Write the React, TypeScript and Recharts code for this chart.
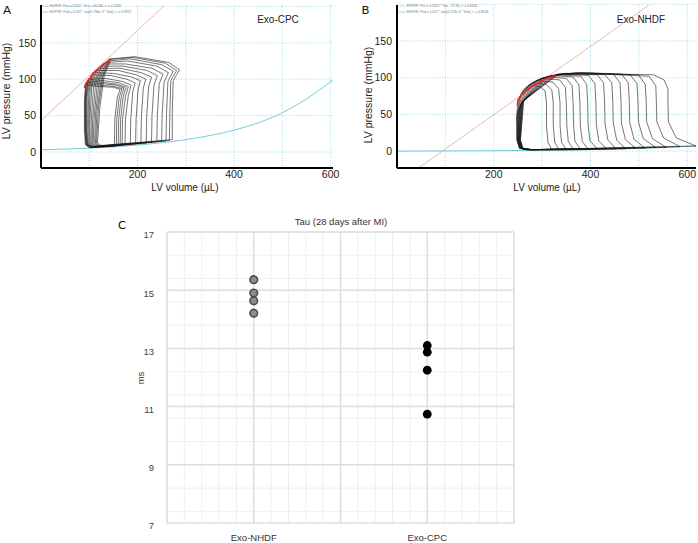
import { ComposedChart, ScatterChart, Line, Scatter, XAxis, YAxis, CartesianGrid } from 'recharts';

const font = '"Liberation Sans", Arial, Helvetica, sans-serif';

// ---- Panel A: Exo-CPC pressure-volume loops, [volume µL, pressure mmHg]
const loopsA: number[][][] = [
  [[152, 8], [153, 45], [158, 75], [164, 86], [150, 89], [120, 90], [92, 92], [90, 70], [90, 30], [92, 10], [100, 6], [152, 8]],
  [[156, 8], [157, 45], [162, 75], [168, 87], [152, 90], [120, 92], [93, 94], [91, 70], [91, 30], [93, 10], [101, 6], [156, 8]],
  [[160, 9], [161, 45], [166, 75], [172, 88], [155, 92], [125, 94], [95, 96], [92, 72], [92, 30], [94, 10], [102, 6], [160, 9]],
  [[164, 9], [165, 45], [170, 75], [176, 89], [158, 93], [125, 96], [97, 98], [93, 74], [93, 30], [95, 10], [103, 7], [164, 9]],
  [[168, 9], [169, 45], [175, 76], [181, 90], [162, 95], [130, 98], [99, 100], [94, 76], [94, 30], [96, 10], [104, 7], [168, 9]],
  [[174, 10], [175, 45], [181, 78], [187, 92], [168, 97], [135, 101], [102, 102], [96, 78], [95, 30], [97, 10], [105, 7], [174, 10]],
  [[185, 10], [186, 45], [190, 82], [195, 95], [178, 100], [145, 105], [106, 106], [99, 82], [97, 35], [98, 10], [106, 7], [185, 10]],
  [[196, 11], [197, 45], [201, 85], [206, 98], [188, 103], [150, 108], [110, 109], [102, 85], [99, 38], [100, 10], [108, 7], [196, 11]],
  [[207, 12], [208, 48], [212, 88], [217, 100], [198, 106], [160, 112], [115, 112], [105, 88], [101, 40], [102, 10], [110, 7], [207, 12]],
  [[218, 12], [219, 48], [223, 90], [229, 103], [208, 109], [165, 115], [120, 115], [109, 90], [104, 42], [104, 10], [112, 7], [218, 12]],
  [[229, 13], [230, 50], [234, 92], [241, 105], [220, 112], [170, 118], [125, 118], [113, 93], [107, 45], [106, 11], [114, 8], [229, 13]],
  [[240, 14], [241, 50], [245, 94], [253, 107], [230, 115], [175, 121], [130, 121], [117, 96], [110, 48], [108, 11], [116, 8], [240, 14]],
  [[250, 15], [251, 52], [255, 96], [264, 109], [240, 118], [180, 125], [135, 123], [121, 99], [113, 52], [111, 12], [118, 8], [250, 15]],
  [[259, 15], [260, 52], [263, 97], [274, 111], [250, 120], [185, 128], [139, 125], [125, 101], [116, 56], [113, 12], [120, 8], [259, 15]],
  [[266, 16], [267, 55], [269, 98], [281, 112], [258, 122], [190, 130], [142, 127], [128, 103], [119, 60], [115, 12], [122, 8], [266, 16]],
  [[272, 17], [272, 55], [274, 98], [287, 113], [265, 123], [195, 131], [145, 128], [131, 105], [122, 62], [117, 13], [124, 9], [272, 17]],
];
const esA = [[90, 88], [92, 92], [93, 94], [95, 96], [97, 98], [99, 100], [102, 102], [106, 106], [110, 109], [115, 112], [120, 115], [125, 118], [130, 121], [135, 123], [139, 125], [142, 127], [145, 128]];
const espvrA = [[0, 43], [255, 201]];
const edpvrA = [[0, 3], [100, 5.3], [200, 9.5], [300, 17], [400, 30], [450, 40], [500, 54], [550, 73], [605, 99]];

// ---- Panel B: Exo-NHDF pressure-volume loops
const loopsB: number[][][] = [
  [[320, 2], [312, 12], [309, 35], [309, 65], [306, 82], [295, 88], [275, 90], [258, 80], [250, 69], [247, 45], [248, 15], [253, 4], [265, 2], [320, 2]],
  [[335, 2], [326, 12], [323, 35], [323, 65], [320, 83], [308, 91], [280, 93], [262, 84], [254, 73], [248, 47], [248, 15], [253, 4], [266, 2], [335, 2]],
  [[350, 2], [340, 12], [337, 35], [337, 65], [334, 85], [322, 94], [290, 96], [267, 87], [258, 77], [249, 50], [249, 15], [254, 4], [267, 2], [350, 2]],
  [[365, 2], [354, 13], [351, 35], [350, 65], [348, 87], [336, 97], [300, 99], [272, 90], [263, 80], [250, 52], [249, 15], [254, 4], [268, 2], [365, 2]],
  [[380, 2], [368, 13], [365, 35], [364, 65], [362, 89], [350, 99], [310, 101], [278, 93], [268, 83], [251, 54], [250, 15], [255, 4], [269, 2], [380, 2]],
  [[396, 2], [383, 13], [379, 35], [378, 66], [376, 90], [364, 101], [320, 103], [284, 95], [274, 86], [252, 56], [250, 15], [255, 4], [270, 2], [396, 2]],
  [[414, 3], [399, 14], [395, 36], [394, 66], [392, 91], [380, 102], [330, 104], [290, 97], [280, 89], [253, 58], [251, 15], [256, 4], [271, 2], [414, 3]],
  [[433, 3], [417, 14], [412, 36], [411, 67], [409, 92], [396, 103], [340, 105], [296, 99], [286, 91], [254, 60], [251, 15], [256, 4], [272, 2], [433, 3]],
  [[453, 3], [436, 15], [430, 37], [429, 68], [427, 93], [414, 104], [350, 106], [302, 100], [292, 93], [255, 62], [252, 15], [257, 4], [273, 2], [453, 3]],
  [[473, 3], [454, 15], [447, 38], [446, 68], [444, 93], [430, 104], [360, 106], [308, 101], [298, 95], [256, 64], [252, 15], [257, 4], [274, 2], [473, 3]],
  [[493, 4], [472, 16], [464, 38], [463, 68], [461, 93], [447, 105], [370, 107], [314, 102], [304, 97], [257, 65], [253, 15], [258, 4], [275, 2], [493, 4]],
  [[513, 4], [490, 16], [481, 39], [480, 69], [478, 93], [464, 105], [380, 107], [320, 103], [310, 99], [258, 66], [253, 15], [258, 4], [276, 2], [513, 4]],
  [[535, 5], [509, 17], [499, 40], [498, 69], [496, 92], [482, 104], [390, 106], [326, 104], [316, 100], [259, 67], [254, 15], [259, 4], [277, 2], [535, 5]],
  [[557, 5], [528, 17], [516, 40], [515, 69], [513, 91], [499, 104], [400, 106], [331, 105], [321, 101], [260, 68], [254, 15], [259, 4], [278, 2], [557, 5]],
  [[585, 6], [551, 18], [537, 40], [536, 68], [535, 89], [521, 102], [420, 105], [336, 105], [326, 102], [261, 68], [255, 15], [260, 4], [279, 2], [585, 6]],
  [[618, 7], [577, 18], [561, 40], [560, 66], [560, 85], [552, 97], [530, 104], [440, 105], [340, 105], [330, 103], [262, 69], [255, 15], [260, 4], [280, 2], [618, 7]],
];
const esB = [[249, 62], [250, 69], [254, 73], [258, 77], [263, 80], [268, 83], [274, 86], [280, 89], [286, 91], [292, 93], [298, 95], [304, 97], [310, 99], [316, 100], [321, 101], [326, 102], [330, 103]];
const espvrB = [[44, -23], [521, 199]];
const edpvrB = [[0, 0], [120, 0.3], [250, 0.8], [350, 1.5], [450, 3], [550, 5], [618, 7]];

// ---- Panel C: Tau (ms)
const groups = ['Exo-NHDF', 'Exo-CPC'];
const nhdfTau = [15.36, 14.9, 14.64, 14.21];
const cpcTau = [13.1, 12.87, 12.25, 10.74];

const pts = (arr: number[][]) => arr.map(([v, p]) => ({ v, p }));
const range = (from: number, to: number, step: number) =>
  Array.from({ length: Math.round((to - from) / step) + 1 }, (_, i) => +(from + i * step).toFixed(3));

const pvGridH = range(0, 200, 25);
const pvGridV = range(100, 600, 100);

function PVPanel({ loops, es, espvr, edpvr, xMax, yDomain, yAxisWidth, margin }: any) {
  return (
    <ComposedChart width={margin.w} height={200} margin={{ top: 5, right: margin.right, bottom: 0, left: 0 }}>
      <CartesianGrid stroke="#9fe2ea" strokeDasharray="1 1.5" horizontalValues={pvGridH} verticalValues={pvGridV} />
      <XAxis
        type="number"
        dataKey="v"
        domain={[0, xMax]}
        ticks={[200, 400, 600]}
        allowDataOverflow
        height={32}
        tickLine={false}
        tickSize={1}
        axisLine={{ stroke: '#000', strokeWidth: 2 }}
        tick={{ fontSize: 10.5, fill: '#222', fontFamily: font }}
      />
      <YAxis
        type="number"
        domain={yDomain}
        ticks={[0, 50, 100, 150]}
        allowDataOverflow
        width={yAxisWidth}
        tickLine={false}
        tickSize={3}
        axisLine={{ stroke: '#000', strokeWidth: 2 }}
        tick={{ fontSize: 10.5, fill: '#222', fontFamily: font }}
      />
      <Line data={pts(edpvr)} dataKey="p" type="monotone" stroke="#4fc0d0" strokeWidth={0.8} dot={false} isAnimationActive={false} />
      <Line data={pts(espvr)} dataKey="p" type="linear" stroke="#e7a3a3" strokeWidth={0.8} dot={false} isAnimationActive={false} />
      {loops.map((loop: number[][], i: number) => (
        <Line key={i} data={pts(loop)} dataKey="p" type="linear" stroke="#1a1a1a" strokeWidth={0.6} dot={false} isAnimationActive={false} />
      ))}
      <Line data={pts(es)} dataKey="p" type="linear" stroke="#e3262a" strokeWidth={1.8} dot={false} isAnimationActive={false} />
    </ComposedChart>
  );
}

const nhdfPts = nhdfTau.map((y) => ({ x: 0, y }));
const cpcPts = cpcTau.map((y) => ({ x: 1, y }));

export default function App() {
  const tiny = { fontSize: 3.3, fill: '#777', fontFamily: font };
  const label = { fontFamily: font, fill: '#222' };
  return (
    <div style={{ position: 'absolute', left: 0, top: 0, width: 698, height: 543, background: '#fff', overflow: 'hidden' }}>
      <div style={{ position: 'absolute', left: 0, top: 0 }}>
        <PVPanel loops={loopsA} es={esA} espvr={espvrA} edpvr={edpvrA} xMax={605} yDomain={[-22, 202]} yAxisWidth={41} margin={{ w: 345, right: 12 }} />
      </div>
      <div style={{ position: 'absolute', left: 349, top: 0 }}>
        <PVPanel loops={loopsB} es={esB} espvr={espvrB} edpvr={edpvrB} xMax={618} yDomain={[-23, 199]} yAxisWidth={48} margin={{ w: 349, right: 2 }} />
      </div>
      <div style={{ position: 'absolute', left: 100, top: 205 }}>
        <ScatterChart width={430} height={338} margin={{ top: 27, right: 16, bottom: 0, left: 0 }}>
          <CartesianGrid stroke="#efefef" horizontalValues={range(7, 17, 0.4)} verticalValues={range(-0.5, 1.5, 0.1)} />
          <CartesianGrid stroke="#dedede" strokeWidth={1.5} horizontalValues={[9, 11, 13, 15, 17]} verticalValues={[0, 0.5, 1, 1.5]} />
          <XAxis
            type="number"
            dataKey="x"
            domain={[-0.5, 1.5]}
            ticks={[0, 1]}
            tickFormatter={(i: number) => groups[i]}
            height={20}
            tickLine={false}
            tickSize={9}
            axisLine={{ stroke: '#cfcfcf' }}
            tick={{ fontSize: 9.5, fill: '#333', fontFamily: font }}
          />
          <YAxis
            type="number"
            dataKey="y"
            domain={[7, 17]}
            ticks={[7, 9, 11, 13, 15, 17]}
            width={67}
            tickLine={false}
            tickSize={11}
            axisLine={{ stroke: '#cfcfcf' }}
            tick={{ fontSize: 9.5, fill: '#444', fontFamily: font, dy: 3 }}
          />
          <Scatter
            data={nhdfPts}
            isAnimationActive={false}
            shape={(p: any) => <circle cx={p.cx} cy={p.cy} r={3.8} fill="#8c8c8c" stroke="#4d4d4d" strokeWidth={1.6} />}
          />
          <Scatter
            data={cpcPts}
            isAnimationActive={false}
            shape={(p: any) => <circle cx={p.cx} cy={p.cy} r={4.4} fill="#000" />}
          />
        </ScatterChart>
      </div>
      <svg width={698} height={543} style={{ position: 'absolute', left: 0, top: 0, pointerEvents: 'none' }}>
        {/* panel letters */}
        <text x={3} y={13.5} fontSize={12} fontFamily="Lato, sans-serif" fill="#111">A</text>
        <text x={361.5} y={13.5} fontSize={12} fontFamily="Lato, sans-serif" fill="#111">B</text>
        <text x={118} y={228.5} fontSize={12} fontFamily="Lato, sans-serif" fill="#111">C</text>

        {/* panel A texts */}
        <line x1={42} y1={6} x2={49} y2={6} stroke="#e7a3a3" strokeWidth={0.6} />
        <text x={50} y={7.2} {...tiny}>ESPVR: Pes = 0.613 * Ves + 40.140, r² = 0.7436</text>
        <line x1={42} y1={12} x2={49} y2={12} stroke="#4fc0d0" strokeWidth={0.6} />
        <text x={50} y={13.2} {...tiny}>EDPVR: Ped = 4.247 * exp(5.780e-3 * Ved), r² = 0.9927</text>
        <text x={278} y={23} fontSize={10} textAnchor="middle" {...label}>Exo-CPC</text>
        <text x={185} y={191} fontSize={10} textAnchor="middle" {...label}>LV volume (µL)</text>
        <text transform="translate(9.5,91) rotate(-90)" fontSize={10.5} textAnchor="middle" {...label}>LV pressure (mmHg)</text>

        {/* panel B texts */}
        <line x1={399} y1={6} x2={406} y2={6} stroke="#e7a3a3" strokeWidth={0.6} />
        <text x={407} y={7.2} {...tiny}>ESPVR: Pes = 0.4502 * Ves - 37.85, r² = 0.8534</text>
        <line x1={399} y1={12} x2={406} y2={12} stroke="#4fc0d0" strokeWidth={0.6} />
        <text x={407} y={13.2} {...tiny}>EDPVR: Ped = 1.057 * exp(2.123e-3 * Ved), r² = 0.8533</text>
        <text x={641} y={23} fontSize={10} textAnchor="middle" {...label}>Exo-NHDF</text>
        <text x={547} y={191} fontSize={10} textAnchor="middle" {...label}>LV volume (µL)</text>
        <text transform="translate(372,95) rotate(-90)" fontSize={10.5} textAnchor="middle" {...label}>LV pressure (mmHg)</text>

        {/* panel C texts */}
        <text x={341} y={224.5} fontSize={9.5} textAnchor="middle" fontFamily={font} fill="#333">Tau (28 days after MI)</text>
        <text transform="translate(144,378) rotate(-90)" fontSize={9.5} textAnchor="middle" fontFamily={font} fill="#333">ms</text>
      </svg>
    </div>
  );
}
